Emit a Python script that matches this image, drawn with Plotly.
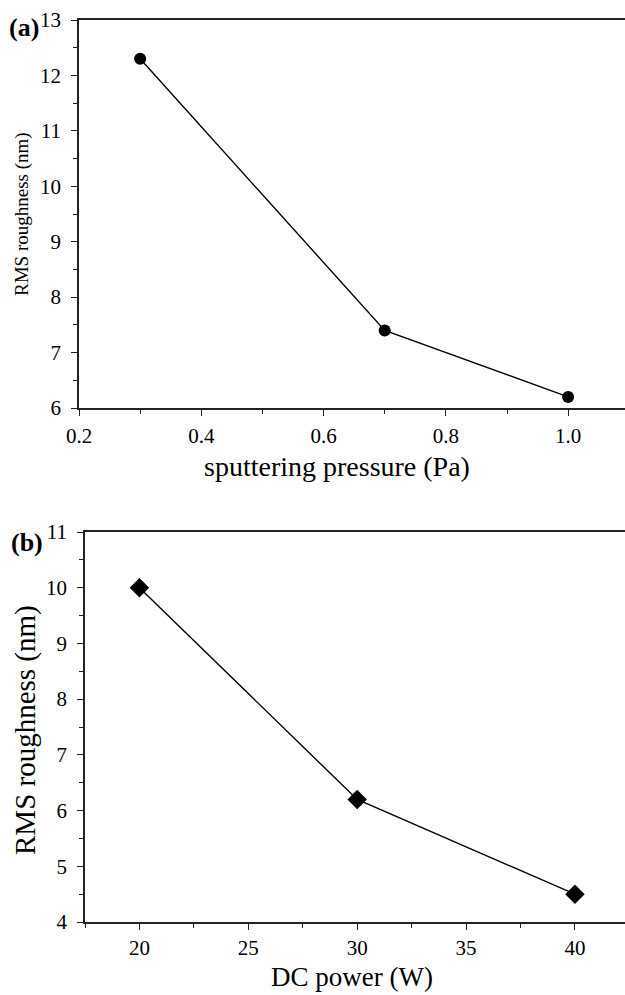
import plotly.graph_objects as go

# Panel (a)
pressure = [0.3, 0.7, 1.0]
rms_a = [12.3, 7.4, 6.2]
# Panel (b)
power = [20, 30, 40]
rms_b = [10.0, 6.2, 4.5]

W, H = 625, 995
FONT = "Liberation Serif, Times New Roman, serif"
AX = "#222222"

def py(px):
    return 1 - px / H

fig = go.Figure()
fig.add_trace(go.Scatter(x=pressure, y=rms_a, mode="lines+markers",
                         line=dict(color="black", width=1.4),
                         marker=dict(symbol="circle", size=12, color="black"),
                         xaxis="x", yaxis="y", showlegend=False))
fig.add_trace(go.Scatter(x=power, y=rms_b, mode="lines+markers",
                         line=dict(color="black", width=1.4),
                         marker=dict(symbol="diamond", size=15, color="black"),
                         xaxis="x2", yaxis="y2", showlegend=False))

common = dict(showline=True, linecolor=AX, linewidth=1.5, ticks="outside",
              ticklen=6, tickwidth=1.3, tickcolor=AX, showgrid=False, automargin=False,
              zeroline=False, tickfont=dict(family=FONT, size=21, color="black"),
              minor=dict(ticks="outside", ticklen=4, tickwidth=1.2, tickcolor=AX, showgrid=False))

fig.update_layout(
    template="none",
    width=W, height=H, margin=dict(l=0, r=0, t=0, b=0, autoexpand=False),
    paper_bgcolor="white", plot_bgcolor="white",
    xaxis=dict(domain=[79 / W, 1], anchor="y", range=[0.2, 1.093], dtick=0.2, tick0=0.2,
               tickformat=".1f", mirror=True, ticklabelstandoff=2,
               **{**common, "minor": dict(common["minor"], dtick=0.1)}),
    yaxis=dict(domain=[py(408), py(20)], anchor="x", range=[6, 13], dtick=1,
               ticklabelstandoff=6,
               **{**common, "minor": dict(common["minor"], dtick=0.5)}),
    xaxis2=dict(domain=[85 / W, 1], anchor="y2", range=[17.5, 42.3], dtick=5, tick0=20,
                mirror=True, ticklabelstandoff=0,
                **{**common, "minor": dict(common["minor"], dtick=2.5, tick0=20)}),
    yaxis2=dict(domain=[py(922), py(532)], anchor="x2", range=[4, 11], dtick=1,
                ticklabelstandoff=6,
                **{**common, "minor": dict(common["minor"], dtick=0.5)}),
)

ann = [
    dict(text="(a)", x=7, y=27, size=26, bold=True),
    dict(text="(b)", x=9, y=542, size=26, bold=True),
    dict(text="sputtering pressure (Pa)", x=337, y=467, size=28),
    dict(text="DC power (W)", x=352, y=977, size=27),
]
for a in ann:
    fig.add_annotation(text=f"<b>{a['text']}</b>" if a.get("bold") else a["text"],
                       xref="paper", yref="paper", x=a["x"] / W, y=py(a["y"]),
                       xanchor="left" if a.get("bold") else "center", yanchor="middle",
                       showarrow=False, font=dict(family=FONT, size=a["size"], color="black"))
fig.add_annotation(text="RMS roughness (nm)", xref="paper", yref="paper", x=22 / W, y=py(214),
                   textangle=-90, showarrow=False, xanchor="center", yanchor="middle",
                   font=dict(family=FONT, size=19, color="black"))
fig.add_annotation(text="RMS roughness (nm)", xref="paper", yref="paper", x=25 / W, y=py(730),
                   textangle=-90, showarrow=False, xanchor="center", yanchor="middle",
                   font=dict(family=FONT, size=29, color="black"))

fig.write_html("out.html", config={"displayModeBar": False},
               post_script="document.body.style.margin='0';document.body.style.overflow='hidden';")
